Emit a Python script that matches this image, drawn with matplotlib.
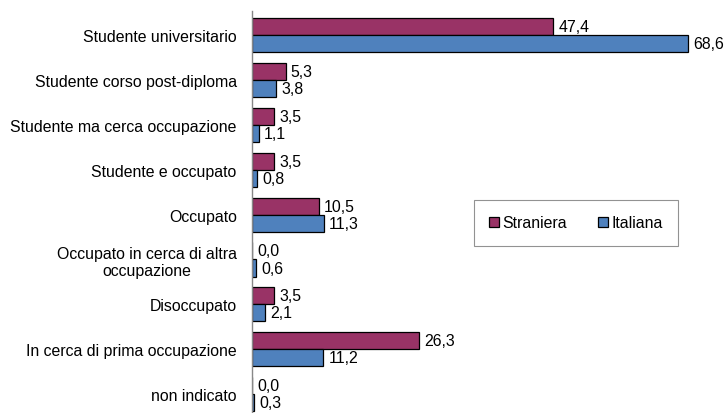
import numpy as np
import matplotlib
matplotlib.use('Agg')
import matplotlib.pyplot as plt

categories = [
    "Studente universitario",
    "Studente corso post-diploma",
    "Studente ma cerca occupazione",
    "Studente e occupato",
    "Occupato",
    "Occupato in cerca di altra\noccupazione",
    "Disoccupato",
    "In cerca di prima occupazione",
    "non indicato",
]
straniera = [47.4, 5.3, 3.5, 3.5, 10.5, 0.0, 3.5, 26.3, 0.0]
italiana = [68.6, 3.8, 1.1, 0.8, 11.3, 0.6, 2.1, 11.2, 0.3]
series_names = ["Straniera", "Italiana"]
colors = ["#993366", "#4F81BD"]

plt.rcParams['font.family'] = ['Liberation Sans', 'DejaVu Sans']
plt.rcParams['font.size'] = 11.4

fig = plt.figure(figsize=(7.27, 4.14), dpi=100)
ax = fig.add_axes([252 / 727, 0, 1 - 252 / 727, 1 - 12 / 414])

y = np.arange(len(categories))
h = 0.38
bars_s = ax.barh(y - h / 2, straniera, height=h, color=colors[0],
                 edgecolor='black', linewidth=0.9, label=series_names[0])
bars_i = ax.barh(y + h / 2, italiana, height=h, color=colors[1],
                 edgecolor='black', linewidth=0.9, label=series_names[1])

def fmt(v):
    return f"{v:.1f}".replace('.', ',')

for bars, vals in [(bars_s, straniera), (bars_i, italiana)]:
    for b, v in zip(bars, vals):
        ax.text(v + 0.8, b.get_y() + b.get_height() / 2, fmt(v),
                ha='left', va='center')

ax.set_xlim(0, 74.7)
ax.set_ylim(8.42, -0.535)
ax.set_yticks(y)
ax.set_yticklabels(categories)
for lab in ax.get_yticklabels():
    lab.set_multialignment('center')
ax.tick_params(axis='y', length=0, pad=11)
ax.set_xticks([])
for s in ['top', 'right', 'bottom']:
    ax.spines[s].set_visible(False)
ax.spines['left'].set_color('#888888')
ax.spines['left'].set_linewidth(1)

leg = fig.legend(loc='center', bbox_to_anchor=(576 / 727, 1 - 224 / 414),
                 ncol=2, frameon=True, fancybox=False, edgecolor='#777777',
                 handlelength=0.6, handleheight=0.6, handletextpad=0.2,
                 columnspacing=2.0, borderpad=1.0)
leg.get_frame().set_linewidth(0.8)

fig.savefig('out.png', dpi=100)
